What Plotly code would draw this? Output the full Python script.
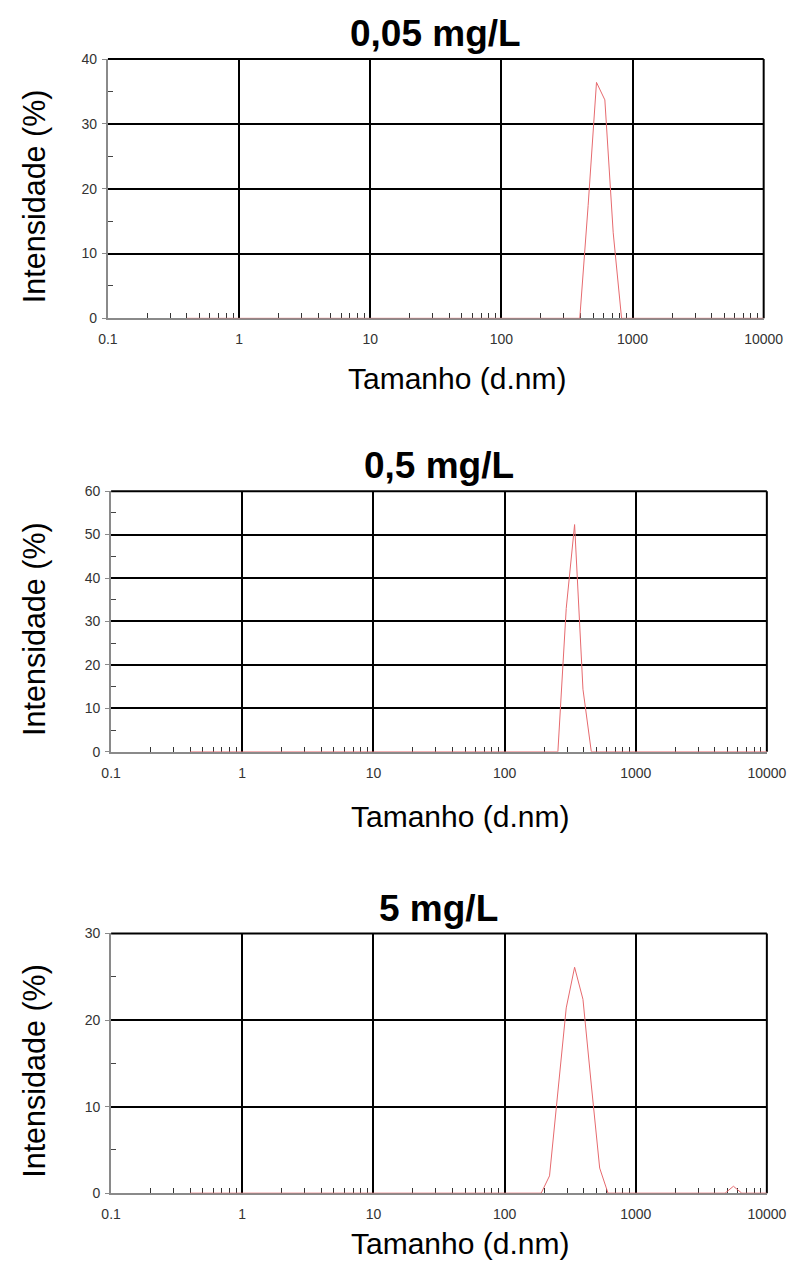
import plotly.graph_objects as go

# Size bins (d.nm)
sizes = [0.4, 0.4632, 0.5365, 0.6213, 0.7195, 0.8332, 0.9649, 1.117, 1.294, 1.499,
         1.736, 2.010, 2.328, 2.696, 3.122, 3.615, 4.187, 4.849, 5.615, 6.503,
         7.531, 8.721, 10.10, 11.70, 13.54, 15.69, 18.17, 21.04, 24.36, 28.21,
         32.67, 37.84, 43.82, 50.75, 58.77, 68.06, 78.82, 91.28, 105.7, 122.4,
         141.8, 164.2, 190.1, 220.2, 255.0, 295.3, 342.0, 396.1, 458.7, 531.2,
         615.1, 712.4, 825.0, 955.4, 1106, 1281, 1484, 1718, 1990, 2305,
         2669, 3091, 3580, 4145, 4801, 5560, 6439, 7456, 8635, 10000]

int_005 = [0, 0, 0, 0, 0, 0, 0, 0, 0, 0,
           0, 0, 0, 0, 0, 0, 0, 0, 0, 0,
           0, 0, 0, 0, 0, 0, 0, 0, 0, 0,
           0, 0, 0, 0, 0, 0, 0, 0, 0, 0,
           0, 0, 0, 0, 0, 0, 0, 0, 17.4, 36.4,
           33.7, 13.2, 0, 0, 0, 0, 0, 0, 0, 0,
           0, 0, 0, 0, 0, 0, 0, 0, 0, 0]

int_05 = [0, 0, 0, 0, 0, 0, 0, 0, 0, 0,
          0, 0, 0, 0, 0, 0, 0, 0, 0, 0,
          0, 0, 0, 0, 0, 0, 0, 0, 0, 0,
          0, 0, 0, 0, 0, 0, 0, 0, 0, 0,
          0, 0, 0, 0, 0, 33.0, 52.3, 14.4, 0, 0,
          0, 0, 0, 0, 0, 0, 0, 0, 0, 0,
          0, 0, 0, 0, 0, 0, 0, 0, 0, 0]

int_5 = [0, 0, 0, 0, 0, 0, 0, 0, 0, 0,
         0, 0, 0, 0, 0, 0, 0, 0, 0, 0,
         0, 0, 0, 0, 0, 0, 0, 0, 0, 0,
         0, 0, 0, 0, 0, 0, 0, 0, 0, 0,
         0, 0, 0, 2.0, 11.5, 21.4, 26.1, 22.4, 12.5, 2.9,
         0, 0, 0, 0, 0, 0, 0, 0, 0, 0,
         0, 0, 0, 0, 0, 0.8, 0, 0, 0, 0]

titles = ["0,05 mg/L", "0,5 mg/L", "5 mg/L"]
series = [int_005, int_05, int_5]
y_max = [40, 60, 30]
x_tickvals = [0.1, 1, 10, 100, 1000, 10000]
x_ticktext = ["0.1", "1", "10", "100", "1000", "10000"]
x_minor = [m * 10 ** e for e in range(-1, 4) for m in range(2, 10)]

W, H = 809, 1270
# pixel boxes: left, right, top, bottom
boxes = [(101.7, 782.7, 51.7, 314.3),
         (105.0, 786.0, 489.3, 753.3),
         (105.0, 786.0, 937.3, 1200.3)]
xtitle_y = [375, 819, 1251]

FONT = "Arial, 'Liberation Sans', sans-serif"
fig = go.Figure()
annotations = []
shapes = []
for i, (title, ys, ymax, box) in enumerate(zip(titles, series, y_max, boxes)):
    n = "" if i == 0 else str(i + 1)
    l, r, t, b = box
    fig.add_trace(go.Scatter(x=sizes, y=ys, mode="lines",
                             line=dict(color="#e66a6e", width=1),
                             xaxis="x" + n, yaxis="y" + n, showlegend=False))
    fig.update_layout(**{
        "xaxis" + n: dict(
            type="log", range=[-1, 4], domain=[l / W, r / W], anchor="y" + n,
            tickvals=x_tickvals, ticktext=x_ticktext, ticks="",
            showgrid=True, gridcolor="black", gridwidth=2,
            showline=True, linecolor="#8a8a8a", linewidth=2,
            layer="below traces", zeroline=False,
            tickfont=dict(family=FONT, size=14, color="#333"),
            ticklabelstandoff=7,
            minor=dict(tickvals=x_minor, ticks="inside", ticklen=5,
                       tickcolor="#333", tickwidth=1, showgrid=False),
        ),
        "yaxis" + n: dict(
            range=[0, ymax], domain=[1 - b / H, 1 - t / H], anchor="x" + n,
            tickvals=list(range(0, ymax + 1, 10)), ticks="outside", ticklen=4,
            tickcolor="#8a8a8a", showgrid=True, gridcolor="black", gridwidth=2,
            showline=True, linecolor="#8a8a8a", linewidth=2, zeroline=False,
            layer="below traces",
            tickfont=dict(family=FONT, size=14, color="#333"),
            ticklabelstandoff=2,
            minor=dict(tickvals=list(range(5, ymax, 10)), ticks="inside", ticklen=5,
                       tickcolor="#444", tickwidth=1, showgrid=False),
        ),
    })
    # black frame on the top and right side of each plot area
    xd, yd = "x" + n + " domain", "y" + n + " domain"
    shapes.append(dict(type="line", xref=xd, yref=yd, x0=0, x1=1, y0=1, y1=1,
                       line=dict(color="black", width=2), layer="below"))
    shapes.append(dict(type="line", xref=xd, yref=yd, x0=1, x1=1, y0=0, y1=1,
                       line=dict(color="black", width=2), layer="below"))
    cx = (l + r) / 2 / W
    annotations.append(dict(text="<b>" + title + "</b>", x=cx, y=1 - (t - 25.7) / H,
                            xref="paper", yref="paper", showarrow=False,
                            xanchor="center", yanchor="middle",
                            font=dict(family=FONT, size=37, color="black")))
    annotations.append(dict(text="Tamanho (d.nm)", x=(cx * W + 22) / W, y=1 - xtitle_y[i] / H,
                            xref="paper", yref="paper", showarrow=False,
                            xanchor="center", yanchor="middle",
                            font=dict(family=FONT, size=30, color="black")))
    annotations.append(dict(text="Intensidade (%)", x=25.5 / W, y=1 - ((t + b) / 2 + 8) / H,
                            xref="paper", yref="paper", showarrow=False, textangle=-90,
                            xanchor="center", yanchor="middle",
                            font=dict(family=FONT, size=30.5, color="black")))

fig.update_layout(width=W, height=H, margin=dict(l=0, r=0, t=0, b=0),
                  paper_bgcolor="white", plot_bgcolor="white",
                  annotations=annotations, shapes=shapes)
fig.write_html("out.html")
